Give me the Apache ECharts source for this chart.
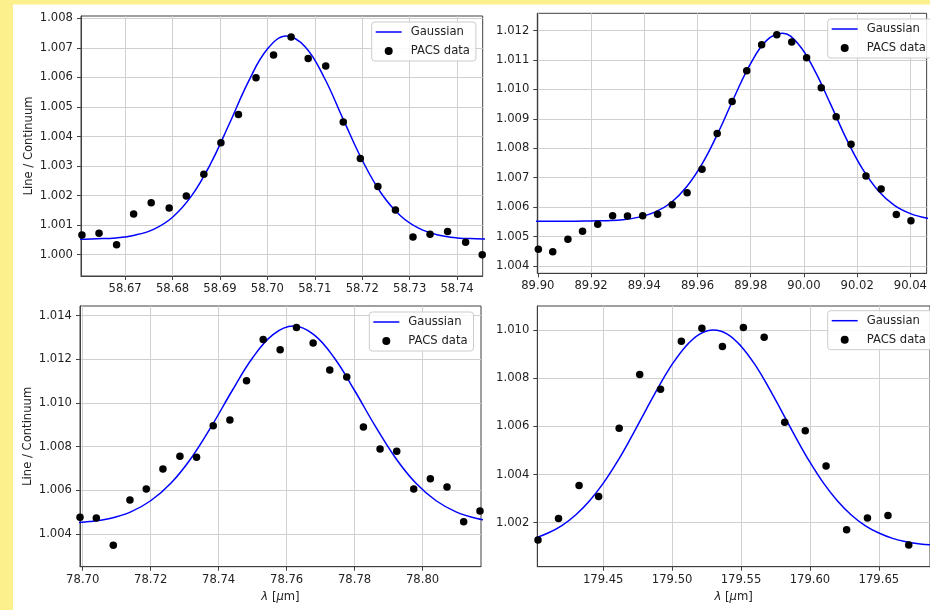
<!DOCTYPE html>
<html>
<head>
<meta charset="utf-8">
<script src="https://cdn.jsdelivr.net/npm/echarts@6/dist/echarts.min.js"></script>
<style>
html,body{margin:0;padding:0;background:#ffffff;}
#chart{width:930px;height:610px;}
</style>
</head>
<body>
<div id="chart"></div>
<script>
// ---------- Panel 1 (58.70 um) ----------
const p1DataX = [58.6609, 58.6645, 58.6682, 58.6718, 58.6755, 58.6793, 58.6829, 58.6866, 58.6902, 58.6939, 58.6976, 58.7013, 58.7050, 58.7086, 58.7123, 58.7160, 58.7196, 58.7233, 58.7270, 58.7307, 58.7343, 58.7380, 58.7418, 58.7453];
const p1DataY = [1.00067, 1.00073, 1.00034, 1.00138, 1.00176, 1.00158, 1.00199, 1.00272, 1.00379, 1.00475, 1.00599, 1.00676, 1.00737, 1.00664, 1.00639, 1.00449, 1.00326, 1.00231, 1.00151, 1.00060, 1.00069, 1.00079, 1.00042, 1.00000];
const p1FitX = [58.656, 58.660, 58.664, 58.668, 58.672, 58.676, 58.680, 58.684, 58.688, 58.692, 58.696, 58.700, 58.704, 58.708, 58.712, 58.716, 58.720, 58.724, 58.728, 58.732, 58.736, 58.740, 58.744, 58.748];
const p1FitY = [1.00052, 1.00052, 1.00054, 1.00057, 1.00066, 1.00086, 1.00127, 1.00199, 1.00307, 1.00444, 1.00586, 1.00696, 1.00740, 1.00703, 1.00599, 1.00458, 1.00320, 1.00208, 1.00133, 1.00089, 1.00067, 1.00057, 1.00054, 1.00052];
const p1XRange = [58.6607, 58.7454];
const p1YRange = [0.99928, 1.00808];
const p1XTicks = [58.67, 58.68, 58.69, 58.70, 58.71, 58.72, 58.73, 58.74];
const p1YTicks = [1.000, 1.001, 1.002, 1.003, 1.004, 1.005, 1.006, 1.007, 1.008];

// ---------- Panel 2 (89.99 um) ----------
const p2DataX = [89.9002, 89.9056, 89.9113, 89.9168, 89.9225, 89.9281, 89.9337, 89.9394, 89.9450, 89.9505, 89.9561, 89.9617, 89.9674, 89.9730, 89.9785, 89.9841, 89.9898, 89.9954, 90.0010, 90.0065, 90.0121, 90.0177, 90.0233, 90.0290, 90.0347, 90.0402];
const p2DataY = [1.00457, 1.00448, 1.00491, 1.00518, 1.00542, 1.00571, 1.00570, 1.00571, 1.00576, 1.00608, 1.00649, 1.00729, 1.00850, 1.00959, 1.01064, 1.01152, 1.01186, 1.01161, 1.01108, 1.01006, 1.00907, 1.00814, 1.00706, 1.00662, 1.00575, 1.00554];
const p2FitX = [89.896, 89.902, 89.908, 89.914, 89.920, 89.926, 89.932, 89.938, 89.944, 89.950, 89.956, 89.962, 89.968, 89.974, 89.980, 89.986, 89.992, 89.998, 90.004, 90.010, 90.016, 90.022, 90.028, 90.034, 90.040, 90.046, 90.052];
const p2FitY = [1.00552, 1.00552, 1.00552, 1.00552, 1.00553, 1.00554, 1.00557, 1.00566, 1.00583, 1.00615, 1.00670, 1.00751, 1.00858, 1.00978, 1.01089, 1.01167, 1.01191, 1.01153, 1.01065, 1.00950, 1.00831, 1.00730, 1.00655, 1.00606, 1.00578, 1.00563, 1.00556];
const p2XRange = [89.8998, 90.0461];
const p2YRange = [1.00375, 1.01259];
const p2XTicks = [89.90, 89.92, 89.94, 89.96, 89.98, 90.00, 90.02, 90.04];
const p2YTicks = [1.004, 1.005, 1.006, 1.007, 1.008, 1.009, 1.010, 1.011, 1.012];

// ---------- Panel 3 (78.76 um) ----------
const p3DataX = [78.6992, 78.7040, 78.7090, 78.7139, 78.7187, 78.7236, 78.7286, 78.7335, 78.7384, 78.7433, 78.7482, 78.7531, 78.7581, 78.7629, 78.7678, 78.7727, 78.7777, 78.7826, 78.7875, 78.7924, 78.7974, 78.8023, 78.8072, 78.8121, 78.8169];
const p3DataY = [1.00476, 1.00473, 1.00348, 1.00556, 1.00606, 1.00698, 1.00756, 1.00751, 1.00896, 1.00922, 1.01102, 1.01290, 1.01244, 1.01345, 1.01275, 1.01151, 1.01119, 1.00890, 1.00789, 1.00779, 1.00606, 1.00653, 1.00615, 1.00456, 1.00505];
const p3FitX = [78.696, 78.702, 78.708, 78.714, 78.720, 78.726, 78.732, 78.738, 78.744, 78.750, 78.756, 78.762, 78.768, 78.774, 78.780, 78.786, 78.792, 78.798, 78.804, 78.810, 78.816, 78.822];
const p3FitY = [1.00450, 1.00457, 1.00471, 1.00500, 1.00552, 1.00633, 1.00749, 1.00896, 1.01057, 1.01207, 1.01313, 1.01352, 1.01313, 1.01207, 1.01057, 1.00896, 1.00749, 1.00633, 1.00552, 1.00500, 1.00471, 1.00457];
const p3XRange = [78.6992, 78.8172];
const p3YRange = [1.0025, 1.01444];
const p3XTicks = [78.70, 78.72, 78.74, 78.76, 78.78, 78.80];
const p3YTicks = [1.004, 1.006, 1.008, 1.010, 1.012, 1.014];

// ---------- Panel 4 (179.53 um) ----------
const p4DataX = [179.4027, 179.4176, 179.4325, 179.4467, 179.4616, 179.4765, 179.4916, 179.5067, 179.5216, 179.5365, 179.5517, 179.5668, 179.5817, 179.5966, 179.6117, 179.6266, 179.6417, 179.6566, 179.6717];
const p4DataY = [1.00128, 1.00217, 1.00354, 1.00309, 1.00592, 1.00815, 1.00754, 1.00953, 1.01007, 1.00931, 1.01010, 1.00970, 1.00617, 1.00582, 1.00435, 1.00171, 1.00219, 1.00230, 1.00107];
const p4FitX = [179.39, 179.40, 179.41, 179.42, 179.43, 179.44, 179.45, 179.46, 179.47, 179.48, 179.49, 179.50, 179.51, 179.52, 179.53, 179.54, 179.55, 179.56, 179.57, 179.58, 179.59, 179.60, 179.61, 179.62, 179.63, 179.64, 179.65, 179.66, 179.67, 179.68, 179.69, 179.70];
const p4FitY = [1.00121, 1.00135, 1.00157, 1.00188, 1.00232, 1.00290, 1.00363, 1.00451, 1.00551, 1.00657, 1.00762, 1.00857, 1.00933, 1.00983, 1.01000, 1.00983, 1.00933, 1.00857, 1.00762, 1.00657, 1.00551, 1.00451, 1.00363, 1.00290, 1.00232, 1.00188, 1.00157, 1.00135, 1.00121, 1.00112, 1.00107, 1.00103];
const p4XRange = [179.4022, 179.6871];
const p4YRange = [1.000173, 1.010996];
const p4XTicks = [179.45, 179.50, 179.55, 179.60, 179.65];
const p4YTicks = [1.002, 1.004, 1.006, 1.008, 1.010];

const seriesNames = ['Gaussian', 'PACS data'];
const yTitle = 'Line / Continuum';
const xTitle = '{i|λ} [{i|μ}m]';

// ---------- styling / layout ----------
const FONT = 'DejaVu Sans';
const FS = 11.6;
const TXT = '#222222';
const FRAME = '#404040';
const GRIDC = '#d0d0d0';
const LINE_ICON = 'path://M0,0L26,0L26,1.5L0,1.5Z';

const panels = [
  {dx: p1DataX, dy: p1DataY, fx: p1FitX, fy: p1FitY, xr: p1XRange, yr: p1YRange, xt: p1XTicks, yt: p1YTicks, xd: 2, yd: 3,
   grid: {left: 81, top: 16, width: 401.7, height: 260}, legend: {left: 371.7, top: 22}, yName: true, xName: false},
  {dx: p2DataX, dy: p2DataY, fx: p2FitX, fy: p2FitY, xr: p2XRange, yr: p2YRange, xt: p2XTicks, yt: p2YTicks, xd: 2, yd: 3,
   grid: {left: 537.3, top: 13.3, width: 401.7, height: 260}, legend: {left: 827.7, top: 19}, yName: false, xName: false},
  {dx: p3DataX, dy: p3DataY, fx: p3FitX, fy: p3FitY, xr: p3XRange, yr: p3YRange, xt: p3XTicks, yt: p3YTicks, xd: 2, yd: 3,
   grid: {left: 80, top: 306, width: 401, height: 260.7}, legend: {left: 369.3, top: 312}, yName: true, xName: true},
  {dx: p4DataX, dy: p4DataY, fx: p4FitX, fy: p4FitY, xr: p4XRange, yr: p4YRange, xt: p4XTicks, yt: p4YTicks, xd: 2, yd: 3,
   grid: {left: 537.3, top: 306, width: 401.7, height: 260.7}, legend: {left: 827.7, top: 310.7}, yName: false, xName: true}
];

function zip(a, b) { return a.map((v, i) => [v, b[i]]); }

function axis(kind, idx, range, ticks, dec, withName) {
  const isX = kind === 'x';
  const ax = {
    type: 'value', gridIndex: idx, min: range[0], max: range[1],
    axisLine: {show: true, onZero: false, lineStyle: {color: FRAME, width: 1}},
    axisTick: {show: true, inside: false, length: 4, customValues: ticks, lineStyle: {color: FRAME, width: 1}},
    axisLabel: {show: true, customValues: ticks, margin: isX ? 7 : 8, color: TXT, fontFamily: FONT, fontSize: FS,
      hideOverlap: false, formatter: v => Number(v).toFixed(dec)},
    splitLine: {show: true, lineStyle: {color: GRIDC, width: 1}}
  };
  if (withName) {
    if (isX) {
      ax.name = xTitle; ax.nameLocation = 'middle'; ax.nameGap = 24;
      ax.nameTextStyle = {fontFamily: FONT, fontSize: FS, color: TXT, rich: {i: {fontFamily: FONT, fontSize: FS, color: TXT, fontStyle: 'italic'}}};
    } else {
      ax.name = yTitle; ax.nameLocation = 'middle'; ax.nameGap = 46;
      ax.nameTextStyle = {fontFamily: FONT, fontSize: FS, color: TXT};
    }
  }
  return ax;
}

const option = {
  backgroundColor: '#ffffff',
  animation: false,
  graphic: [
    {type: 'rect', z: -100, silent: true, shape: {x: 0, y: 0, width: 930, height: 4.5}, style: {fill: '#fcf08c'}},
    {type: 'rect', z: -100, silent: true, shape: {x: 0, y: 0, width: 13, height: 610}, style: {fill: '#fcf08c'}}
  ],
  grid: [], xAxis: [], yAxis: [], legend: [], series: []
};

panels.forEach((p, i) => {
  option.grid.push(Object.assign({show: true, borderColor: FRAME, borderWidth: 1, backgroundColor: 'transparent', containLabel: false}, p.grid));
  option.xAxis.push(axis('x', i, p.xr, p.xt, p.xd, p.xName));
  option.yAxis.push(axis('y', i, p.yr, p.yt, p.yd, p.yName));
  option.legend.push({
    show: true, orient: 'vertical', left: p.legend.left, top: p.legend.top,
    data: [{name: seriesNames[0], icon: LINE_ICON}, {name: seriesNames[1], icon: 'circle'}],
    itemWidth: 26, itemHeight: 8, itemGap: 7, selectedMode: false,
    padding: [4, 6, 4, 4], backgroundColor: 'rgba(255,255,255,0.85)', borderColor: '#cccccc', borderWidth: 1, borderRadius: 3,
    textStyle: {fontFamily: FONT, fontSize: FS, color: TXT, padding: [0, 0, 0, 4]}
  });
  option.series.push({
    name: seriesNames[0], type: 'line', xAxisIndex: i, yAxisIndex: i,
    data: zip(p.fx, p.fy), smooth: 0.4, symbol: 'none', showSymbol: false, clip: true,
    lineStyle: {color: '#0000ff', width: 1.5}, itemStyle: {color: '#0000ff'}, z: 2
  });
  option.series.push({
    name: seriesNames[1], type: 'scatter', xAxisIndex: i, yAxisIndex: i,
    data: zip(p.dx, p.dy), symbol: 'circle', symbolSize: 7.5, clip: false,
    itemStyle: {color: '#000000', opacity: 1}, z: 3
  });
});

const chart = echarts.init(document.getElementById('chart'), null, {renderer: 'canvas'});
chart.setOption(option);
</script>
</body>
</html>
